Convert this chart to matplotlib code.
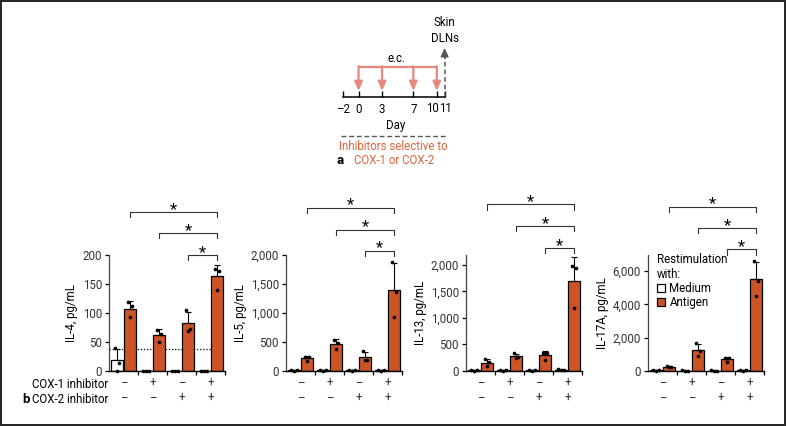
import numpy as np
import matplotlib
matplotlib.use("Agg")
import matplotlib.pyplot as plt
from matplotlib.patches import Patch, Rectangle
from matplotlib.ticker import FuncFormatter
import matplotlib.transforms as mtransforms

plt.rcParams["font.family"] = ["Roboto", "DejaVu Sans"]
plt.rcParams["font.size"] = 8.3

# ── Data ─────────────────────────────────────────────────────────────────────
cox1_signs = ["–", "+", "–", "+"]
cox2_signs = ["–", "–", "+", "+"]

# panel a timeline
timeline_days = [-2, 0, 3, 7, 10, 11]
injection_days = [0, 3, 7, 10]
harvest_day = 11

# panel b, three mice per condition (medium / antigen restimulation)
il4_medium = [[40, 13, 0], [0, 0, 0], [0, 0, 0], [0, 0, 0]]
il4_antigen = [[118, 112, 92], [71, 63, 50], [105, 72, 68], [176, 173, 140]]
il5_medium = [[10, 6, 3], [6, 4, 2], [6, 4, 2], [8, 5, 2]]
il5_antigen = [[245, 235, 170], [530, 480, 370], [345, 190, 190], [1879, 1366, 934]]
il13_medium = [[12, 6, 3], [6, 4, 2], [6, 4, 2], [25, 15, 5]]
il13_antigen = [[215, 165, 85], [330, 250, 245], [335, 330, 205], [1981, 1937, 1192]]
il17_medium = [[40, 20, 10], [15, 10, 5], [20, 10, 5], [30, 20, 10]]
il17_antigen = [[300, 230, 210], [1650, 1200, 900], [780, 740, 505], [6600, 5400, 4500]]

il4_detection_limit = 37
sig_pairs = [(0, 3), (1, 3), (2, 3)]

ORANGE = "#cc5427"
ARROW_RED = "#e8877c"
TEXT_RED = "#e0643a"
FS = 8.3

W, H = 787, 426
fig = plt.figure(figsize=(W / 100, H / 100), dpi=100)


def px_box(left, top, width, height):
    return [left / W, (H - top - height) / H, width / W, height / H]


# ── Panel a: timeline ────────────────────────────────────────────────────────
ax_a = fig.add_axes(px_box(300, 0, 200, 170))
ax_a.set_xlim(-7.49, 18.08)
ax_a.set_ylim(170, 0)
ax_a.patch.set_alpha(0)
for s in ["top", "left", "right"]:
    ax_a.spines[s].set_visible(False)
ax_a.spines["bottom"].set_position(("data", 97))
ax_a.spines["bottom"].set_bounds(timeline_days[0], timeline_days[-1])
ax_a.spines["bottom"].set_linewidth(1.1)
ax_a.set_yticks([])
ax_a.set_xticks(timeline_days)
ax_a.set_xticklabels(["–2", "0", "3", "7", "", ""])
ax_a.tick_params(axis="x", direction="in", length=4, width=1.0, pad=4, labelsize=FS)
ax_a.text(10.3, 109, "10", ha="right", va="center", fontsize=FS)
ax_a.text(10.3, 109, "11", ha="left", va="center", fontsize=FS)

ax_a.plot([injection_days[0], injection_days[-1]], [67, 67], color=ARROW_RED, lw=1.6,
          solid_capstyle="butt")
for d in injection_days:
    ax_a.annotate("", xy=(d, 91), xytext=(d, 66.2),
                  arrowprops=dict(arrowstyle="-|>,head_length=0.65,head_width=0.28",
                                  color=ARROW_RED, lw=1.6, shrinkA=0, shrinkB=0))
ax_a.text(4.9, 58, "e.c.", ha="center", va="center", fontsize=FS)

ax_a.plot([harvest_day, harvest_day], [97, 57], color="#555555", lw=1.1, ls=(0, (3, 2)))
ax_a.annotate("", xy=(harvest_day, 48), xytext=(harvest_day, 58),
              arrowprops=dict(arrowstyle="-|>,head_length=0.6,head_width=0.28",
                              color="#555555", lw=1.1, shrinkA=0, shrinkB=0))
ax_a.text(harvest_day, 30.5, "Skin\nDLNs", ha="center", va="center", fontsize=FS,
          linespacing=1.25)
ax_a.text(4.78, 125, "Day", ha="center", va="center", fontsize=FS)

ax_a.plot([-2.3, 11.3], [136, 136], color="#555555", lw=1.0, ls=(0, (3.5, 2)))
ax_a.text(4.5, 146, "Inhibitors selective to", ha="center", va="center",
          fontsize=FS, color=TEXT_RED)
ax_a.text(4.5, 160, "COX-1 or COX-2", ha="center", va="center", fontsize=FS,
          color=TEXT_RED)
ax_a.text(-2.3, 160, "a", ha="center", va="center", fontsize=9.5, fontweight="bold")

# ── Panel b: cytokine bar charts ─────────────────────────────────────────────
panels = [
    ("IL-4, pg/mL", il4_medium, il4_antigen, 200, [0, 50, 100, 150, 200], 109,
     [1.37, 1.19, 1.0]),
    ("IL-5, pg/mL", il5_medium, il5_antigen, 2000, [0, 500, 1000, 1500, 2000], 286,
     [1.41, 1.22, 1.037]),
    ("IL-13, pg/mL", il13_medium, il13_antigen, 2190, [0, 500, 1000, 1500, 2000], 466,
     [1.438, 1.251, 1.058]),
    ("IL-17A, pg/mL", il17_medium, il17_antigen, 6970, [0, 2000, 4000, 6000], 648,
     [1.417, 1.231, 1.049]),
]

offset = 0.23
bar_w = 0.4
jitter = [-0.08, 0.08, 0.0]
zero_jitter = [-0.11, 0.11, 0.0]

for idx, (ylabel, medium, antigen, ymax, yticks, left_px, sig_y) in enumerate(panels):
    ax = fig.add_axes(px_box(left_px, 255, 116, 115.7))
    x = np.arange(len(medium))
    for cond, data, face, sign in [("Medium", medium, "white", -1),
                                   ("Antigen", antigen, ORANGE, 1)]:
        arr = np.array(data, dtype=float)
        mean = arr.mean(axis=1)
        sd = arr.std(axis=1, ddof=1)
        xs = x + sign * offset
        ax.bar(xs, mean, width=bar_w, color=face, edgecolor="black", lw=0.9, zorder=2)
        ax.errorbar(xs, mean, yerr=[np.zeros_like(sd), sd], fmt="none", ecolor="black",
                    elinewidth=0.8, capsize=2.4, capthick=0.8, zorder=3)
        for gi in range(len(data)):
            jit = zero_jitter if mean[gi] < ymax * 0.02 else jitter
            ax.scatter(xs[gi] + np.array(jit), arr[gi], s=7, color="black", zorder=4,
                       clip_on=False, linewidths=0)

    if idx == 0:
        ax.axhline(il4_detection_limit, color="black", lw=0.9, ls=(0, (1, 1.5)), zorder=1)

    ax.set_xlim(-0.5, 3.5)
    ax.set_ylim(0, ymax)
    ax.set_yticks(yticks)
    ax.yaxis.set_major_formatter(FuncFormatter(lambda v, p: f"{int(v):,}"))
    ax.set_xticks([0.5, 1.5, 2.5, 3.5])
    ax.set_xticklabels([])
    ax.tick_params(axis="x", length=3, width=0.9, direction="out")
    ax.tick_params(axis="y", length=3, width=0.9, direction="out", labelsize=FS,
                   labelcolor="#333333", pad=2)
    ax.set_ylabel(ylabel, fontsize=FS, labelpad=3)
    for s in ["top", "right"]:
        ax.spines[s].set_visible(False)
    ax.spines["left"].set_color("#444444")
    ax.spines["left"].set_linewidth(0.9)
    ax.spines["bottom"].set_linewidth(1.0)

    trans = mtransforms.blended_transform_factory(ax.transData, ax.transAxes)
    for r, s in enumerate(x):
        ax.text(s, -0.11, cox1_signs[r], transform=trans, ha="center", va="center",
                fontsize=FS, color="#333333")
        ax.text(s, -0.24, cox2_signs[r], transform=trans, ha="center", va="center",
                fontsize=FS, color="#333333")

    leg_len = 0.045
    for (g1, g2), yb in zip(sig_pairs, sig_y):
        x1, x2 = g1 + offset, g2 + offset
        ax.plot([x1, x1, x2, x2], [yb - leg_len, yb, yb, yb - leg_len], transform=trans,
                color="#333333", lw=0.8, clip_on=False)
        ax.text((x1 + x2) / 2, yb - 0.04, "*", transform=trans, ha="center",
                va="bottom", fontsize=12)

    if idx == 3:
        handles = [Patch(facecolor="white", edgecolor="black", lw=0.9, label="Medium"),
                   Patch(facecolor=ORANGE, edgecolor="black", lw=0.9, label="Antigen")]
        leg = ax.legend(handles=handles, title="Restimulation\nwith:", loc="upper left",
                        bbox_to_anchor=(0.03, 1.07), frameon=False, fontsize=FS,
                        title_fontsize=FS, handlelength=0.7, handleheight=0.7,
                        handletextpad=0.35, borderpad=0, labelspacing=0.1,
                        alignment="left")

fig.text(108 / W, (H - 385) / H, "COX-1 inhibitor", ha="right", va="center", fontsize=FS)
fig.text(108 / W, (H - 399.5) / H, "COX-2 inhibitor", ha="right", va="center", fontsize=FS)
fig.text(26 / W, (H - 399.5) / H, "b", ha="center", va="center", fontsize=9.5,
         fontweight="bold")

fig.add_artist(Rectangle((0.001, 0.002), 0.997, 0.996, transform=fig.transFigure,
                         fill=False, lw=1.4, ec="#222222"))

fig.savefig("out.png", dpi=100)
